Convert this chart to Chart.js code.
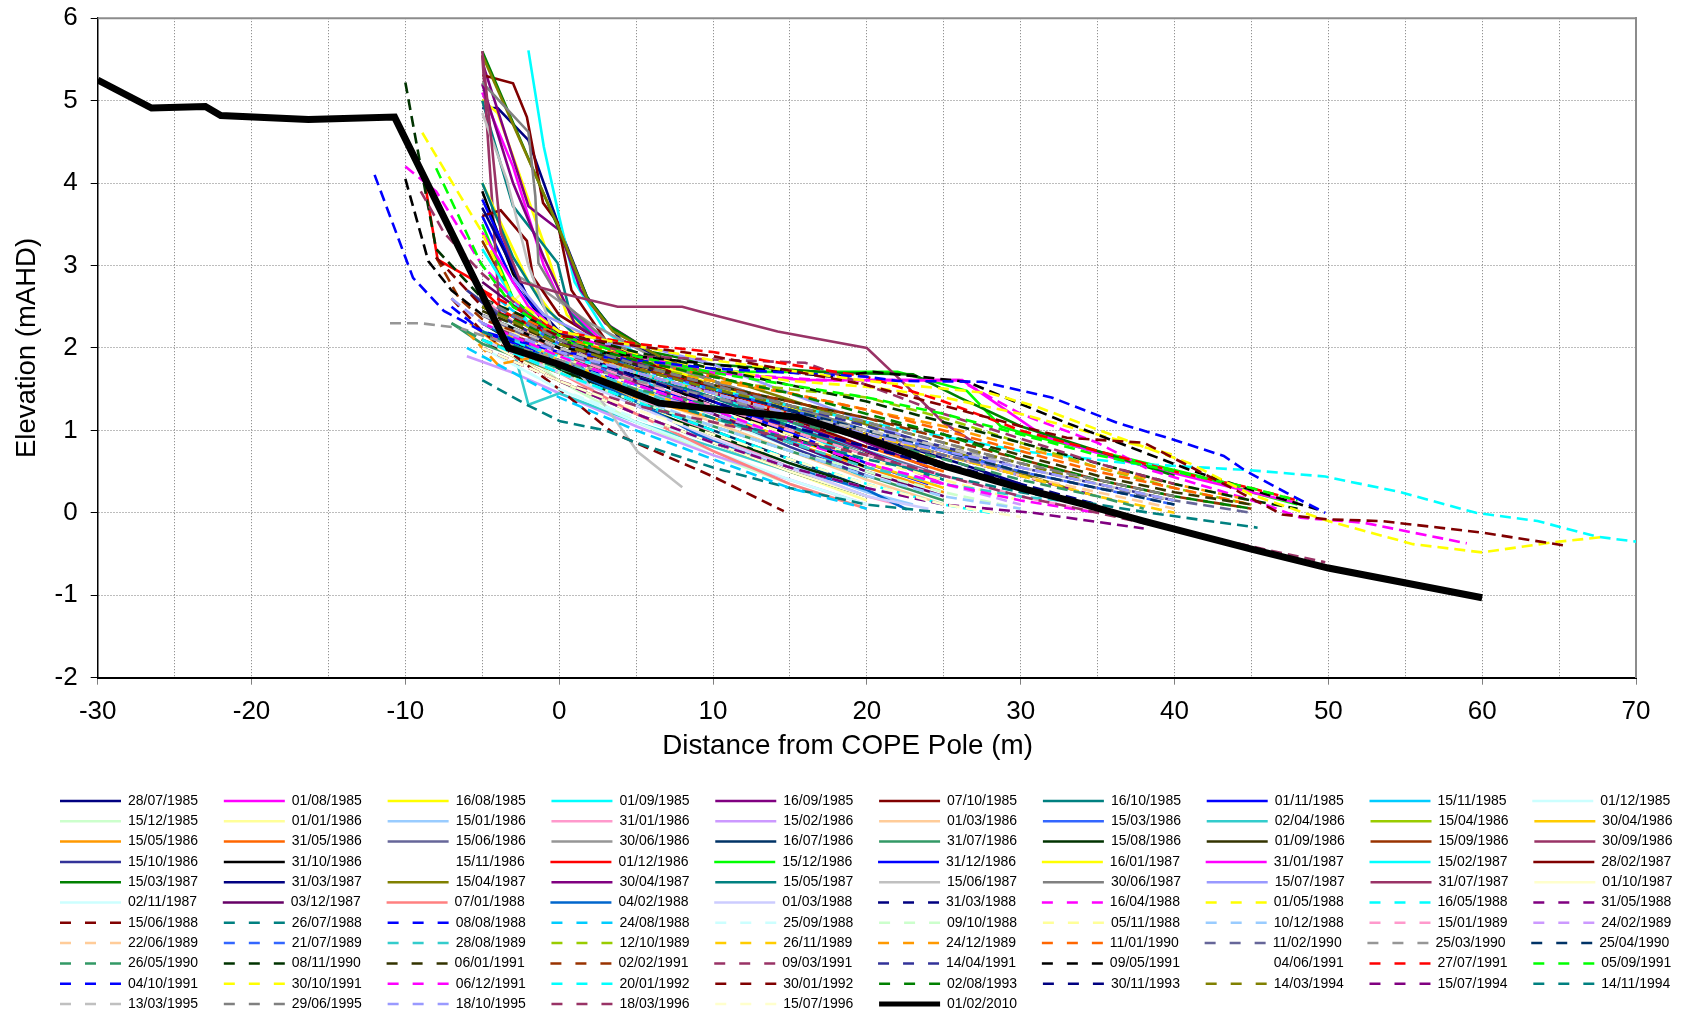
<!DOCTYPE html>
<html>
<head>
<meta charset="utf-8">
<script src="https://cdn.jsdelivr.net/npm/chart.js@4.4.1/dist/chart.umd.min.js"></script>
<style>
html,body{margin:0;padding:0;background:#fff;overflow:hidden}
#wrap{position:relative;width:1705px;height:1021px}
</style>
</head>
<body>
<div id="wrap"><canvas id="chart"></canvas></div>
<script>
// survey dates, in legend order
const surveyDates=[
'28/07/1985','01/08/1985','16/08/1985','01/09/1985','16/09/1985','07/10/1985','16/10/1985','01/11/1985','15/11/1985','01/12/1985',
'15/12/1985','01/01/1986','15/01/1986','31/01/1986','15/02/1986','01/03/1986','15/03/1986','02/04/1986','15/04/1986','30/04/1986',
'15/05/1986','31/05/1986','15/06/1986','30/06/1986','16/07/1986','31/07/1986','15/08/1986','01/09/1986','15/09/1986','30/09/1986',
'15/10/1986','31/10/1986','15/11/1986','01/12/1986','15/12/1986','31/12/1986','16/01/1987','31/01/1987','15/02/1987','28/02/1987',
'15/03/1987','31/03/1987','15/04/1987','30/04/1987','15/05/1987','15/06/1987','30/06/1987','15/07/1987','31/07/1987','01/10/1987',
'02/11/1987','03/12/1987','07/01/1988','04/02/1988','01/03/1988','31/03/1988','16/04/1988','01/05/1988','16/05/1988','31/05/1988',
'15/06/1988','26/07/1988','08/08/1988','24/08/1988','25/09/1988','09/10/1988','05/11/1988','10/12/1988','15/01/1989','24/02/1989',
'22/06/1989','21/07/1989','28/08/1989','12/10/1989','26/11/1989','24/12/1989','11/01/1990','11/02/1990','25/03/1990','25/04/1990',
'26/05/1990','08/11/1990','06/01/1991','02/02/1991','09/03/1991','14/04/1991','09/05/1991','04/06/1991','27/07/1991','05/09/1991',
'04/10/1991','30/10/1991','06/12/1991','20/01/1992','30/01/1992','02/08/1993','30/11/1993','14/03/1994','15/07/1994','14/11/1994',
'13/03/1995','29/06/1995','18/10/1995','18/03/1996','15/07/1996','01/02/2010'
];

const NONE='rgba(0,0,0,0)';
const lineColours=[
'#000080','#FF00FF','#FFFF00','#00FFFF','#800080','#800000','#008080','#0000FF','#00CCFF','#CCFFFF',
'#CCFFCC','#FFFF99','#99CCFF','#FF99CC','#CC99FF','#FFCC99','#3366FF','#33CCCC','#99CC00','#FFCC00',
'#FF9900','#FF6600','#666699','#969696','#003366','#339966','#003300','#333300','#993300','#993366',
'#333399','#000000',NONE,'#FF0000','#00FF00','#0000FF','#FFFF00','#FF00FF','#00FFFF','#800000',
'#008000','#000080','#808000','#800080','#008080','#C0C0C0','#808080','#9999FF','#993366','#FFFFCC',
'#CCFFFF','#660066','#FF8080','#0066CC','#CCCCFF','#000080','#FF00FF','#FFFF00','#00FFFF','#800080',
'#800000','#008080','#0000FF','#00CCFF','#CCFFFF','#CCFFCC','#FFFF99','#99CCFF','#FF99CC','#CC99FF',
'#FFCC99','#3366FF','#33CCCC','#99CC00','#FFCC00','#FF9900','#FF6600','#666699','#969696','#003366',
'#339966','#003300','#333300','#993300','#993366','#333399','#000000',NONE,'#FF0000','#00FF00',
'#0000FF','#FFFF00','#FF00FF','#00FFFF','#800000','#008000','#000080','#808000','#800080','#008080',
'#C0C0C0','#808080','#9999FF','#993366','#FFFFCC','#000000'
];

// surveys from 31/03/1988 on are drawn dashed; the last one is the 2010 profile
const firstDashed=55;

// profiles: distance (m), elevation (mAHD) pairs
const profiles=[
[-5,4.91,-4,4.91,-2,4.52,-1,4.0,0,3.47,1.8,2.62,4,2.1,8,1.75,12,1.45,16,1.1,20,0.75],
[-5,5.1,-3,4.2,-1,3.0,0,2.6,3,2.05,8,1.65,14,1.25,20,0.75,25,0.35],
[-5,5.01,-4,4.85,-1,3.27,0.5,2.4,3,2.0,8,1.65,14,1.35,20,0.95,25,0.6],
[-2,5.61,-1,4.44,0,3.59,1,2.8,3,2.2,6,1.8,10,1.45,15,1.05,20,0.6],
[-4.9,5.41,-2,3.72,0,3.43,1.4,2.7,3,2.3,6,1.95,10,1.6,15,1.25,20,0.85,24,0.55],
[-5,5.31,-3,5.21,-2.1,4.8,-1.45,4.16,-1.05,3.76,-0.1,3.52,0.8,2.7,3,2.1,7,1.75,12,1.4,17,1.0,21,0.65],
[-5,5.0,-3,3.72,-0.1,3.03,0.7,2.43,3,2.0,7,1.7,12,1.4,18,1.05,23,0.7],
[-5,3.6,-3,2.8,-1,2.3,2,1.95,6,1.6,10,1.3,15,0.95,20,0.6,24,0.35],
[-4,2.6,-2,2.3,0,2.0,4,1.7,8,1.4,12,1.1,16,0.8,20,0.4],
[-5,2.5,0,1.9,5,1.5,10,1.15,15,0.8,20,0.45],
[-4,2.2,0,1.6,5,1.1,10,0.7,15,0.35,20,0.05],
[-4,2.4,-2.5,2.65,0,2.0,5,1.35,10,0.9,15,0.5,20,0.15],
[-5,2.3,0,1.75,5,1.3,10,0.95,15,0.6,20,0.25,23,0.1],
[-5,2.6,0,1.9,5,1.4,10,0.95,15,0.55,20,0.2,22,0.1],
[-6,1.9,-3,1.7,0,1.45,5,1.05,10,0.7,15,0.4,20,0.1],
[-5,2.4,0,1.85,5,1.45,10,1.1,15,0.75,20,0.4,25,0.1],
[-4,2.8,0,2.0,5,1.55,10,1.2,15,0.85,20,0.5],
[-3,2.0,-2,1.31,0,1.45,5,1.1,10,0.8,15,0.5,20,0.2],
[-4,2.5,0,2.0,5,1.7,10,1.45,15,1.25,20,1.0,25,0.7],
[-5,2.3,0,1.85,5,1.5,10,1.2,15,0.9,20,0.6,25,0.3],
[-5.8,2.3,-3,1.9,0,1.7,5,1.4,10,1.15,15,0.85,20,0.55,25,0.25],
[-5,2.5,0,2.0,5,1.65,10,1.4,15,1.1,20,0.8,25,0.5],
[-6,2.7,-3,2.3,0,2.0,5,1.65,10,1.35,15,1.05,20,0.75,25,0.45],
[-3,2.9,-1,2.7,2,2.3,6,1.9,10,1.6,15,1.3,20,1.0,25,0.7],
[-5,2.2,0,1.75,5,1.35,10,1.0,15,0.65,20,0.3],
[-7,2.3,-5,2.05,0,1.7,5,1.35,10,1.05,15,0.75,20,0.45,25,0.15],
[-5,2.3,0,1.75,5,1.3,10,0.95,15,0.6,20,0.3],
[-5,2.1,0,1.6,5,1.2,10,0.85,15,0.5,20,0.2],
[-5,3.3,-3,2.6,0,2.1,5,1.7,10,1.35,15,1.0,20,0.7],
[-5,5.55,-3.8,2.22,-1,2.0,3,1.7,8,1.4,14,1.1,20,0.75],
[-6,2.7,-4,2.4,0,2.0,5,1.6,10,1.2,15,0.8,20,0.45],
[-5,3.9,-3,2.9,-1,2.3,2,1.9,6,1.6,10,1.3,15,0.95,20,0.55],
[-5,2.5,0,2.0,10,1.2,20,0.5],
[-8.8,4.08,-7.9,3.07,-5.8,2.85,-3.4,2.42,0,2.1,5,1.8,10,1.5,15,1.2,20,0.9,25,0.6],
[-5,3.5,-3,2.6,0,2.1,5,1.85,9,1.71,22,1.71,26.5,1.48,28.7,1.05,30.8,0.93,36,0.7,41.7,0.44,45,0.25,48,0.1],
[-5,3.8,-1.9,2.55,0,2.2,4,1.8,8,1.5,12,1.2,16,0.9,20,0.6],
[-5,4.0,-2,2.8,0,2.3,5,1.9,10,1.55,15,1.25,20,0.9,25,0.55],
[-5,3.4,-2,2.5,0,2.2,5,1.9,10,1.7,16,1.61,26.2,1.61,31.5,0.93,36.3,0.65,41.7,0.4,45,0.25,48,0.12],
[-5,3.2,-2,2.3,0,2.0,5,1.7,10,1.4,15,1.1,20,0.75,25,0.4],
[-5,3.6,-3.8,3.67,-2.1,3.3,-1.7,2.86,0,2.4,3,2.05,6,1.8,10,1.5,15,1.15,20,0.8],
[-5,5.6,0,3.43,1.8,2.62,3.3,2.26,6,1.95,10,1.8,18,1.7,23,1.68,26,1.4,30,1.05,35,0.75,40,0.45],
[-5,3.7,-2,2.6,0,2.2,4,1.85,8,1.6,14,1.3,20,0.95,26,0.6,30,0.35],
[-5,5.55,0,3.45,1.8,2.6,3.5,2.2,7,1.85,12,1.55,17,1.25,22,0.95,28,0.6,33,0.3],
[-5,5.2,-3,4.0,-1,3.1,1,2.3,4,1.9,8,1.6,13,1.25,18,0.9,22,0.6],
[-5,4.0,-3,3.1,-1,2.5,2,2.0,6,1.65,10,1.4,15,1.05,20,0.7,25,0.4],
[-5,4.85,-3.4,4.04,-2,3.0,0,2.0,3,1.3,5.1,0.74,8,0.31],
[-5,5.22,-2,4.62,-1.55,3.84,-1.35,3.03,0,2.6,3,2.1,6,1.85,10,1.6,15,1.3,20,1.0,25,0.7,30,0.45],
[-3,2.85,-1,2.4,3,2.05,6,2.0,10,1.8,15,1.45,20,1.1,25,0.75,30,0.45],
[-5,5.6,-3.8,3.4,-2.5,2.8,0,2.67,3.8,2.5,8,2.5,9.2,2.44,14.2,2.2,20,2.0,22.2,1.61,25,1.09,27,0.85],
[-4,2.0,0,1.6,5,1.2,10,0.85,15,0.5,20,0.2],
[-5,2.0,0,1.5,5,1.1,10,0.75,15,0.4,20,0.1],
[-5,2.8,0,2.1,5,1.6,10,1.2,15,0.85,20,0.5,25,0.2],
[-5,2.2,0,1.7,5,1.2,10,0.75,15,0.35,20,0.05],
[-5,2.3,0,1.8,5,1.35,9,0.95,15,0.55,20,0.28,22.6,0.04],
[-5,2.1,0,1.7,5,1.3,10,0.9,15,0.55,20,0.2,24,0.05],
[-5,2.4,0,1.95,5,1.65,10,1.4,15,1.15,20,0.9,25,0.6,30,0.35,35,0.1],
[-10,4.2,-8,3.9,-5,3.0,-2,2.4,0,2.15,5,1.9,10,1.7,17,1.61,26,1.61,30,1.2,35,0.85,38.4,0.52,45.6,0.12,48.2,-0.06,52.3,-0.12,59,-0.37],
[-5,2.5,0,2.1,10,1.75,15,1.6,20,1.53,25,1.4,30,1.2,35,0.95,40,0.7],
[-5,2.2,0,1.9,10,1.5,20,1.1,30,0.75,37,0.6,44.7,0.52,49.8,0.44,54.7,0.25,59.6,0.0,63.6,-0.1,67.5,-0.29,70,-0.35],
[-5,2.5,0,2.0,5,1.7,10,1.45,15,1.2,20,0.95,25,0.7,30,0.45,35,0.2],
[-7,2.6,-5,2.2,0,1.5,3.5,0.97,10,0.44,14.6,0.02],
[-5,1.61,-2.1,1.31,0.07,1.11,3,1.0,5,0.85,10,0.55,15,0.3,20,0.1,25,0.0],
[-7,2.5,-5,2.2,0,1.85,5,1.55,10,1.3,15,1.05,20,0.8,25,0.55,30,0.3,35,0.1],
[-6,2.0,-3,1.7,0,1.4,5,1.0,10,0.65,15,0.3,20,0.05],
[-4,1.9,0,1.5,5,1.15,10,0.85,15,0.55,20,0.3,25,0.1],
[-4,2.1,0,1.7,5,1.35,10,1.05,15,0.75,20,0.5,25,0.25,30,0.05],
[-4,2.3,0,1.9,5,1.55,10,1.25,15,0.95,20,0.65,25,0.4,30,0.15],
[-5,2.2,0,1.8,5,1.4,10,1.05,15,0.75,20,0.45,25,0.2,30,0.05],
[-5,2.4,0,1.95,5,1.6,10,1.3,15,1.0,20,0.7,25,0.45,30,0.2,35,0.0],
[-5,2.3,0,1.85,5,1.5,10,1.2,15,0.9,20,0.6,25,0.35,30,0.1],
[-5,2.5,0,2.0,5,1.7,10,1.45,15,1.2,20,0.95,25,0.7,30,0.45,35,0.25,40,0.05],
[-5,2.6,0,2.05,5,1.75,10,1.5,15,1.25,20,1.0,25,0.75,30,0.5,35,0.3,40,0.1],
[-5,2.3,0,1.85,5,1.5,10,1.15,15,0.85,20,0.55,25,0.35,30,0.2,35,0.1],
[-5,2.6,0,2.1,5,1.8,10,1.6,15,1.5,20,1.4,25,1.15,30,0.85,35,0.55,40,0.3,45,0.1],
[-5,2.4,0,2.0,5,1.7,10,1.45,15,1.2,20,0.95,25,0.7,30,0.45,35,0.2,40,0.0],
[-6,2.2,-4,1.8,0,1.95,5,1.75,10,1.6,15,1.45,20,1.25,25,1.05,30,0.8,35,0.55,40,0.35,45,0.15],
[-5,2.6,0,2.15,5,1.85,10,1.65,15,1.45,20,1.25,25,1.0,30,0.75,35,0.5,40,0.3,45,0.1],
[-5,2.4,0,1.95,5,1.65,10,1.4,15,1.15,20,0.9,25,0.7,30,0.5,35,0.3,40,0.15,45,0.0],
[-11,2.3,-9,2.3,-6.4,2.24,-5,2.15,0,1.85,5,1.6,10,1.4,15,1.2,20,1.0,25,0.8,30,0.6,35,0.4,40,0.2],
[-5,2.5,0,2.05,5,1.75,10,1.5,15,1.25,20,1.0,25,0.75,30,0.5,35,0.3,40,0.1],
[-7,2.3,-5,2.1,0,1.75,5,1.5,10,1.3,15,1.1,20,0.9,25,0.65,30,0.4,35,0.2,38,0.05],
[-10,5.22,-9,4.2,-8,3.2,-5,2.6,0,2.2,5,1.95,10,1.75,15,1.55,20,1.35,25,1.1,30,0.85,35,0.6,40,0.35,45,0.15,48,0.05],
[-5,2.45,0,2.05,5,1.8,10,1.55,15,1.35,20,1.15,25,0.95,30,0.7,35,0.45,40,0.25,45,0.1],
[-8,3.1,-6.5,2.6,-5,2.35,0,2.0,5,1.75,10,1.55,15,1.35,20,1.15,25,0.9,30,0.65,35,0.4,40,0.2,45,0.05],
[-9,3.9,-7.5,3.4,-5,2.9,-2,2.4,0,2.2,5,1.9,10,1.86,16,1.82,20,1.55,25,1.2,30,0.9,35,0.6,40,0.35],
[-5,2.6,0,2.1,5,1.8,10,1.55,15,1.3,20,1.05,25,0.8,30,0.55,35,0.35,40,0.15],
[-10,4.05,-8.5,3.05,-7,2.7,-5,2.4,0,2.0,10,1.8,17.8,1.65,20.4,1.71,26.5,1.59,33,1.09,41,0.52,45,0.28,49.3,0.04],
[-5,2.3,0,1.9,10,1.4,20,0.9,30,0.4],
[-5,2.7,0,2.2,5,2.05,10,1.95,15,1.8,20,1.65,25,1.35,30,1.0,35,0.75,40,0.5,45,0.3,48,0.15],
[-8,4.18,-5.1,3.03,-3,2.5,0,2.15,5,1.9,10,1.7,15,1.55,20,1.4,25,1.2,30,0.95,35,0.7,40,0.5,45,0.3,48,0.15],
[-12,4.1,-9.5,2.85,-7.5,2.45,-5,2.2,0,1.95,10,1.75,20,1.65,22,1.6,27.5,1.59,32,1.4,36.3,1.09,39.9,0.89,43.2,0.69,44.7,0.5,47.5,0.22,49.8,0.0],
[-8.9,4.61,-5.1,3.43,-3,2.6,0,2.2,10,1.85,20,1.6,28,1.45,31,1.29,38,0.8,41,0.6,45,0.22,50,-0.1,55.5,-0.38,60,-0.48,64.5,-0.36,68,-0.29],
[-5,2.3,0,1.9,5,1.55,10,1.25,15,0.9,20,0.6,25,0.35,30,0.15,35,0.0],
[-5,2.1,0,1.7,5,1.35,10,1.0,15,0.65,20,0.35,25,0.1,28,0.0],
[-8,3.1,-5,2.5,0,2.15,10,1.9,20,1.55,30,1.05,33,0.91,38,0.85,43,0.37,47,-0.02,50,-0.08,53.5,-0.1,60,-0.24,65.5,-0.4],
[-5,2.5,0,2.1,5,1.85,10,1.65,15,1.45,20,1.2,25,0.95,30,0.65,35,0.4,40,0.2,45,0.05],
[-5,2.4,0,2.0,5,1.65,10,1.35,15,1.05,20,0.8,25,0.55,30,0.3,35,0.1],
[-5,2.5,0,2.05,5,1.75,10,1.5,15,1.3,20,1.1,25,0.85,30,0.6,35,0.35,40,0.15],
[-5,2.0,0,1.6,5,1.2,10,0.85,15,0.55,20,0.3,25,0.1,30.8,0.0,38,-0.19],
[-5,2.2,0,1.8,5,1.45,10,1.15,15,0.9,20,0.65,25,0.45,30,0.25,38.4,0.0,45.4,-0.18],
[-5,2.4,0,2.0,5,1.7,10,1.45,15,1.2,20,1.0,25,0.8,30,0.55,35,0.35,40,0.15],
[-5,2.6,0,2.1,5,1.8,10,1.55,15,1.3,20,1.1,25,0.85,30,0.6,35,0.4,40,0.2],
[-7,2.6,-5,2.3,0,1.95,5,1.7,10,1.45,15,1.2,20,0.95,25,0.75,30,0.55,35,0.35,40,0.15],
[-5,2.0,0,1.6,5,1.3,10,1.1,15,0.9,20,0.7,25,0.45,30,0.2,35,0.0,42.8,-0.32,49.8,-0.6],
[-5,2.0,0,1.6,5,1.25,10,0.95,15,0.65,20,0.35,25,0.1,30,-0.05],
[-30,5.25,-26.5,4.91,-23,4.93,-22,4.82,-16.3,4.77,-10.7,4.8,-3.3,2.0,0,1.8,6.5,1.33,9.5,1.27,15.5,1.16,20,0.9,25,0.57,30,0.3,34,0.11,38,-0.1,45,-0.44,50,-0.67,60,-1.03]
];

const FONT="'Liberation Sans', Arial, sans-serif";
const last=surveyDates.length-1;

function toPoints(flat){
  const pts=[];
  for(let i=0;i<flat.length;i+=2) pts.push({x:flat[i],y:flat[i+1]});
  return pts;
}

const datasets=surveyDates.map((d,i)=>({
  label:d,
  data:toPoints(profiles[i]),
  borderColor:lineColours[i],
  backgroundColor:lineColours[i],
  borderWidth:i===last?7:2.6,
  borderDash:(i>=firstDashed&&i<last)?[11,6]:[],
  pointRadius:0,
  tension:0,
  order:surveyDates.length-i
}));

// grey frame along the top of the plot area
const topFrame={
  id:'topFrame',
  beforeDatasetsDraw(chart){
    const {ctx,chartArea:a}=chart;
    ctx.save();
    ctx.strokeStyle='#8c8c8c';ctx.lineWidth=2;
    ctx.beginPath();ctx.moveTo(a.left,a.top);ctx.lineTo(a.right,a.top);ctx.stroke();
    ctx.restore();
  }
};

new Chart(document.getElementById('chart'),{
  type:'line',
  data:{datasets},
  plugins:[topFrame],
  options:{
    responsive:true,maintainAspectRatio:false,animation:false,
    layout:{padding:{left:53.7,right:0,top:18,bottom:0}},
    plugins:{
      tooltip:{enabled:false},
      legend:{
        position:'bottom',align:'start',
        labels:{
          usePointStyle:true,pointStyle:'line',pointStyleWidth:61,boxHeight:14,padding:6.3,
          color:'#000',font:{family:FONT,size:14},
          generateLabels:chart=>chart.data.datasets.map((ds,i)=>({
            text:ds.label+'     ',
            fillStyle:ds.borderColor,strokeStyle:ds.borderColor,
            lineWidth:i===last?5:2.5,
            lineDash:ds.borderDash.length?[11,14]:[],
            pointStyle:'line',fontColor:'#000',hidden:false,datasetIndex:i
          }))
        }
      }
    },
    scales:{
      x:{
        type:'linear',position:'bottom',min:-30,max:70,
        ticks:{stepSize:5,autoSkip:false,maxRotation:0,padding:12,color:'#000',
          font:{family:FONT,size:26},callback:v=>v%10===0?v:''},
        grid:{color:'#7a7a7a',lineWidth:1,tickLength:7,
          tickColor:c=>(c.tick&&c.tick.value%10===0)?'#808080':NONE},
        border:{color:'#000',width:2,dash:[1,2]},
        title:{display:true,text:'Distance from COPE Pole (m)     ',color:'#000',
          font:{family:FONT,size:27.8},padding:{top:0,bottom:24.5}},
        afterFit:s=>{s.height=110;}
      },
      y:{
        type:'linear',position:'left',min:-2,max:6,
        ticks:{stepSize:1,padding:13,color:'#000',font:{family:FONT,size:26,lineHeight:0.4}},
        grid:{color:'#7a7a7a',lineWidth:1,tickLength:7,tickColor:'#000'},
        border:{color:'#000',width:1.5,dash:[1,2]},
        title:{display:true,text:'Elevation (mAHD)',color:'#000',
          font:{family:FONT,size:27.5},padding:{top:-43,bottom:0}},
        afterFit:s=>{s.width=44;}
      },
      y2:{
        type:'linear',position:'right',
        ticks:{display:false},grid:{display:false,drawTicks:false},
        border:{color:'#8c8c8c',width:2},
        afterFit:s=>{s.width=69;}
      }
    }
  }
});
</script>
</body>
</html>
